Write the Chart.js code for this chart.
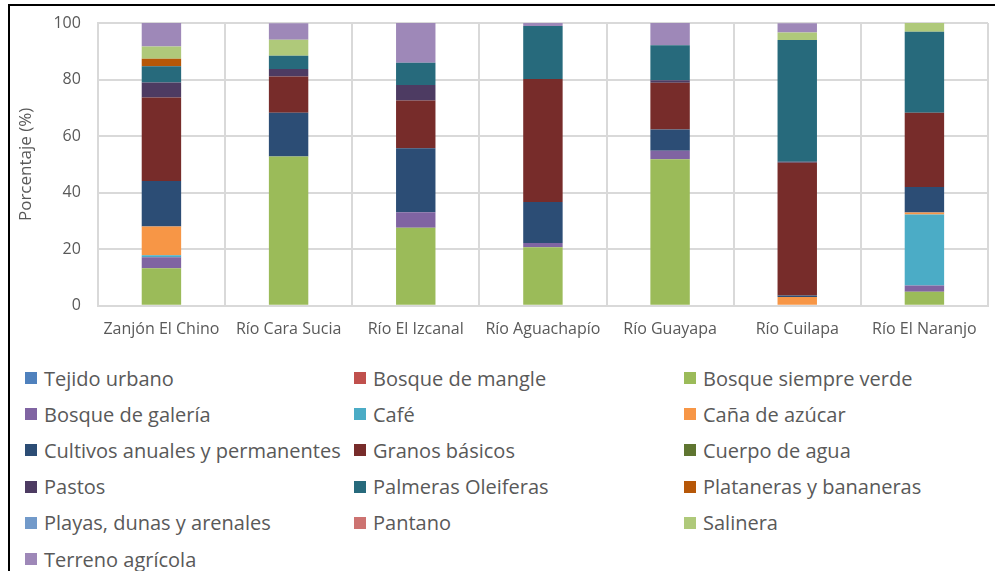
<!DOCTYPE html>
<html>
<head>
<meta charset="utf-8">
<script src="https://cdn.jsdelivr.net/npm/chart.js@4/dist/chart.umd.min.js"></script>
<style>
  body { margin: 0; background: #fff; width: 995px; height: 571px; overflow: hidden; position: relative; font-family: "Open Sans", sans-serif; }
  #frame { position: absolute; left: 8px; top: 4px; width: 1000px; height: 600px; border-top: 2px solid #000; border-left: 2px solid #000; }
  #wrap { position: absolute; left: 0; top: 0; width: 995px; height: 353px; }
  #legend { position: absolute; left: 25px; top: 360px; display: grid; grid-template-columns: 329px 330px 300px; grid-auto-rows: 36.2px; }
  .item { display: flex; align-items: center; color: #595959; font-size: 20px; white-space: nowrap; }
  .box { width: 12px; height: 12px; margin-right: 7px; flex: none; }
</style>
</head>
<body>
<div id="frame"></div>
<div id="wrap"><canvas id="grafico"></canvas></div>
<div id="legend"></div>
<script>
const categorias = ['Zanjón El Chino', 'Río Cara Sucia', 'Río El Izcanal', 'Río Aguachapío', 'Río Guayapa', 'Río Cuilapa', 'Río El Naranjo'];

const tejidoUrbano = [0, 0, 0, 0, 0, 0, 0];
const bosqueMangle = [0, 0, 0, 0, 0, 0, 0];
const bosqueSiempreVerde = [13.3, 52.8, 27.6, 20.7, 51.8, 0, 5.0];
const bosqueGaleria = [3.9, 0, 5.5, 1.5, 3.0, 0, 2.2];
const cafe = [0.7, 0, 0, 0, 0, 0, 25.1];
const canaAzucar = [10.1, 0, 0, 0, 0, 3.1, 0.7];
const cultivos = [16.1, 15.5, 22.6, 14.5, 7.5, 0.5, 9.0];
const granosBasicos = [29.6, 12.8, 16.9, 43.5, 16.6, 47.0, 26.3];
const cuerpoAgua = [0, 0, 0, 0, 0, 0, 0];
const pastos = [5.3, 2.6, 5.5, 0, 0.9, 0.3, 0];
const palmeras = [5.7, 4.7, 7.8, 18.7, 12.3, 43.1, 28.6];
const plataneras = [2.7, 0, 0, 0, 0, 0, 0];
const playas = [0, 0, 0, 0, 0, 0, 0];
const pantano = [0, 0, 0, 0, 0, 0, 0];
const salinera = [4.3, 5.7, 0, 0, 0, 2.6, 3.1];
const terrenoAgricola = [8.3, 5.8, 14.1, 1.1, 7.9, 3.3, 0];

const yTicks = [0, 20, 40, 60, 80, 100];

const series = [
  ['Tejido urbano', tejidoUrbano, '#4F81BD'],
  ['Bosque de mangle', bosqueMangle, '#C0504D'],
  ['Bosque siempre verde', bosqueSiempreVerde, '#9BBB59'],
  ['Bosque de galería', bosqueGaleria, '#8064A2'],
  ['Café', cafe, '#4BACC6'],
  ['Caña de azúcar', canaAzucar, '#F79646'],
  ['Cultivos anuales y permanentes', cultivos, '#2C4D75'],
  ['Granos básicos', granosBasicos, '#772C2A'],
  ['Cuerpo de agua', cuerpoAgua, '#5F7530'],
  ['Pastos', pastos, '#4D3B62'],
  ['Palmeras Oleiferas', palmeras, '#276A7C'],
  ['Plataneras y bananeras', plataneras, '#B65708'],
  ['Playas, dunas y arenales', playas, '#729ACA'],
  ['Pantano', pantano, '#CD7371'],
  ['Salinera', salinera, '#AFC97A'],
  ['Terreno agrícola', terrenoAgricola, '#9E88B8']
];

// leyenda en html, tres columnas como en el original
const htmlLegend = {
  id: 'htmlLegend',
  afterUpdate(chart) {
    const cont = document.getElementById('legend');
    cont.innerHTML = '';
    chart.options.plugins.legend.labels.generateLabels(chart).forEach(item => {
      const div = document.createElement('div');
      div.className = 'item';
      const box = document.createElement('span');
      box.className = 'box';
      box.style.background = item.fillStyle;
      div.appendChild(box);
      div.appendChild(document.createTextNode(item.text));
      cont.appendChild(div);
    });
  }
};

const ctx = document.getElementById('grafico').getContext('2d');
new Chart(ctx, {
  type: 'bar',
  data: {
    labels: categorias,
    datasets: series.map(s => ({
      label: s[0],
      data: s[1],
      backgroundColor: s[2],
      borderWidth: 0,
      barPercentage: 0.31,
      categoryPercentage: 1
    }))
  },
  options: {
    responsive: true,
    maintainAspectRatio: false,
    animation: false,
    layout: { padding: { top: 0, right: 7, left: 16, bottom: 0 } },
    plugins: {
      legend: { display: false },
      tooltip: { enabled: false }
    },
    scales: {
      x: {
        stacked: true,
        grid: { color: '#d9d9d9', lineWidth: 2, drawTicks: false },
        border: { color: '#d9d9d9', width: 2 },
        ticks: { color: '#595959', font: { family: 'Open Sans', size: 16 }, padding: 14, maxRotation: 0 }
      },
      y: {
        stacked: true,
        min: 0,
        max: 100,
        afterBuildTicks: axis => { axis.ticks = yTicks.map(v => ({ value: v })); },
        grid: { color: '#d9d9d9', lineWidth: 2, drawTicks: false },
        border: { color: '#d9d9d9', width: 2 },
        ticks: { color: '#595959', font: { family: 'Open Sans', size: 16, lineHeight: 0.75 }, padding: 17 },
        title: { display: true, text: 'Porcentaje (%)', color: '#595959', font: { family: 'Open Sans', size: 17 }, padding: { top: 0, bottom: 0 } }
      }
    }
  },
  plugins: [htmlLegend]
});
</script>
</body>
</html>
